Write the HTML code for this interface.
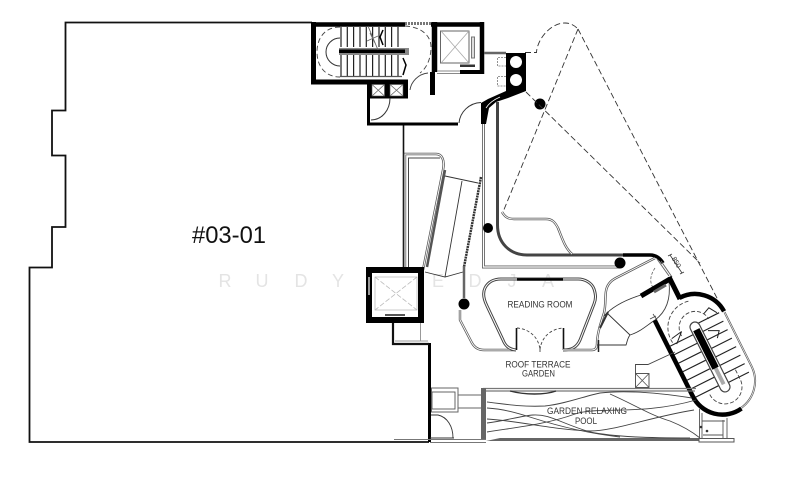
<!DOCTYPE html>
<html><head><meta charset="utf-8"><style>
html,body{margin:0;padding:0;background:#fff;width:800px;height:478px;overflow:hidden}
svg{display:block;filter:blur(.3px)}
text{font-family:"Liberation Sans",sans-serif}
</style></head><body>
<svg width="800" height="478" viewBox="0 0 800 478" xmlns="http://www.w3.org/2000/svg" fill="none" stroke-linejoin="miter">
<!-- watermark -->
<g font-size="18" fill="#e4e4e4" text-anchor="middle">
<text x="225" y="287">R</text><text x="262" y="287">U</text><text x="301" y="287">D</text><text x="338" y="287">Y</text>
<text x="403" y="287">T</text><text x="438" y="287">E</text><text x="475" y="287">D</text><text x="512" y="287">J</text><text x="548" y="287">A</text>
</g>
<!-- outer unit -->
<path d="M312 22.5H65.5V110.5H52V155.5H65.5V227H52V267.5H29.5V442H429" stroke="#111" stroke-width="1.8"/>
<path d="M429.500 343V442" stroke="#000" stroke-width="3"/>
<path d="M393 323V344H429" stroke="#111" stroke-width="2.200"/>
<path d="M395 341H428M420.500 323V341" stroke="#999" stroke-width="1"/>
<path d="M403.500 125V268" stroke="#111" stroke-width="1.600"/>

<!-- upper stair core -->
<g stroke="#000">
<path d="M313.500 22V84M311 82H408" stroke-width="5"/>
<path d="M311 24.500H405M431 24.500H484" stroke-width="4.500"/>
<path d="M434.500 22V72" stroke-width="5.500"/>
<path d="M482 22V74" stroke-width="4.500"/>
<path d="M460 72H484" stroke-width="4"/>
<path d="M432.500 72V95" stroke-width="5"/>
</g>
<path d="M405 23.500H431" stroke="#777" stroke-width="3" stroke-dasharray="2 1"/>
<path d="M437 71H460M437 73.500H460" stroke="#888"/>
<g stroke="#222" stroke-width="1.200">
<path d="M341 27V47M347.300 27V47M353.600 27V47M360 27V47M366.300 27V47M372.600 27V47M379 27V47M385.300 27V47M391.600 27V47M398 27V47"/>
<path d="M341 55V76M347.300 55V76M353.600 55V76M360 55V76M366.300 55V76M372.600 55V76M379 55V76M385.300 55V76M391.600 55V76M398 55V76"/>
<path d="M340 76.500H402" stroke="#555"/>
</g>
<rect x="339" y="48" width="70" height="7" fill="#888"/>
<rect x="339" y="49.500" width="66" height="3.500" fill="#000"/>
<path d="M340 38A14 14 0 0 0 340 66" stroke="#333" stroke-width="1"/>
<path d="M340 27C325 27 317 38 317 52S325 77 340 77M405 26C422 27 431 36 431 47S427 68 420 73" stroke="#444" stroke-width=".9" stroke-dasharray="5 3"/>
<path d="M368 26L378 50M367 41L378 36M370 33L375 43" stroke="#666" stroke-width=".9"/>
<path d="M383 30L380 37L383 45M403 58L406 65L403 75" stroke="#000" stroke-width="1.500"/>
<!-- lift 1 -->
<rect x="440.500" y="31" width="28.500" height="32" stroke="#666" stroke-width="1"/>
<path d="M441 31L469 63M469 31L441 63" stroke="#aaa" stroke-width=".8"/>
<rect x="471.500" y="37" width="3" height="21" stroke="#777" stroke-width="1" fill="#ddd"/>
<rect x="460" y="64.500" width="15" height="2.500" fill="#333"/>
<!-- shafts -->
<rect x="367" y="83" width="41" height="15.500" fill="#000"/>
<rect x="372" y="84.500" width="12.500" height="11.500" fill="#fff" stroke="#555" stroke-width=".6"/>
<rect x="390" y="84.500" width="13" height="11.500" fill="#fff" stroke="#555" stroke-width=".6"/>
<path d="M372 84.500L384.500 96M384.500 84.500L372 96M390 84.500L403 96M403 84.500L390 96" stroke="#666" stroke-width=".8"/>
<path d="M368.500 98V125M367 124H458" stroke="#000" stroke-width="3"/>
<path d="M371 120C382 120 390 110 390 98" stroke="#333" stroke-width="1"/>
<path d="M410 90C411 82 418 74 428 73" stroke="#444" stroke-width=".9"/>
<path d="M459 123C460 112 469 103 481 102.500" stroke="#333" stroke-width="1"/>

<!-- sanitary block -->
<path d="M484 53H506" stroke="#666" stroke-width="2.500"/>
<path d="M506 53H526V91L508 98L496 102L489 108L486 124L481 124V103L488 99L506 91Z" fill="#000"/>
<path d="M486 108C489 103 493 100 500 97" stroke="#fff" stroke-width=".8"/>
<circle cx="516" cy="62" r="6" fill="#fff"/><circle cx="516" cy="80" r="6" fill="#fff"/>
<path d="M506 57.500H497.500V66H506M506 76.500H497.500V86H506" stroke="#777" stroke-width=".8" stroke-dasharray="2 1"/>
<circle cx="540" cy="104" r="5.500" fill="#000"/>
<!-- dashed overhead -->
<g stroke="#333" stroke-width=".9" stroke-dasharray="6 3">
<path d="M578 29L503 212"/><path d="M578 29L718 300"/><path d="M526 92L700 263"/>
<path d="M525 52.500H536.500C537 40 550 23 565 23C571 23 575 26 578 29"/>
</g>

<!-- double rails -->
<path d="M483.500 124V267H620" stroke="#666" stroke-width="3"/>
<path d="M483.500 124V267H620" stroke="#fff" stroke-width="1.200"/>
<path d="M497.500 102V225C497.500 243 510 255 527 255H625" stroke="#444" stroke-width="3"/>
<path d="M623 255H650C656 255 660 258 663 263" stroke="#000" stroke-width="3.600"/>
<circle cx="620" cy="263" r="5.500" fill="#000"/>
<circle cx="488" cy="228" r="5" fill="#000"/>
<path d="M502 212C505 217 508 219 514 219H546C552 219 555 222 558 228C562 238 565 248 572 254" stroke="#555" stroke-width="2.400"/>
<path d="M502 212C505 217 508 219 514 219H546C552 219 555 222 558 228C562 238 565 248 572 254" stroke="#fff" stroke-width=".9"/>

<!-- ramp -->
<path d="M423 270L443 170C445 160 442 154 436 154H405V268" stroke="#555" stroke-width="2.400"/>
<path d="M423 270L443 170C445 160 442 154 436 154H405V268" stroke="#fff" stroke-width=".9"/>
<path d="M408.500 268V158H440" stroke="#444" stroke-width="1"/>
<path d="M445 170L427 267" stroke="#555" stroke-width="2.500"/>
<path d="M481 177L464 267" stroke="#333" stroke-width="2.500" stroke-dasharray="2 .7"/>
<path d="M445 176L478 183M462 181L445 277M425 272L445 277L463 272" stroke="#333" stroke-width=".9"/>
<path d="M464 266L464 298" stroke="#666" stroke-width="2.500"/>
<!-- lift 2 -->
<rect x="369" y="270" width="52" height="50" fill="#fff" stroke="#000" stroke-width="6"/>
<path d="M375 277H417V310H375Z" stroke="#bbb" stroke-width=".8"/>
<path d="M375 277L417 310M417 277L375 310" stroke="#bbb" stroke-width=".8" stroke-dasharray="5 2"/>
<path d="M385 315H405" stroke="#555" stroke-width="2"/>
<path d="M369 277V295" stroke="#999" stroke-width="2"/>
<!-- left wing -->
<circle cx="464" cy="304" r="5.500" fill="#000"/>
<path d="M460 310V320L472 343Q476 350 484 350H516" stroke="#555" stroke-width="2.400"/>
<path d="M460 310V320L472 343Q476 350 484 350H516" stroke="#fff" stroke-width=".9"/>
<!-- reading room -->
<path d="M516 350C508 349 505 345 503 340L487 306C483 298 483 292 485 288C488 282 494 279 501 279H578C585 279 592 283 594 289C596 295 596 299 594 304L580 340C577 347 572 350 563 350" stroke="#444" stroke-width="3"/>
<path d="M516 350C508 349 505 345 503 340L487 306C483 298 483 292 485 288C488 282 494 279 501 279H578C585 279 592 283 594 289C596 295 596 299 594 304L580 340C577 347 572 350 563 350" stroke="#fff" stroke-width="1"/>
<path d="M517 279.500H563" stroke="#000" stroke-width="2.500"/>
<path d="M516.500 350V328M563.500 350V328" stroke="#111" stroke-width="1.600"/>
<path d="M517 328C530 329 539 338 540 350C541 338 550 329 563 328" stroke="#444" stroke-width=".9" stroke-dasharray="3 2"/>
<path d="M540 346V352" stroke="#555"/>
<!-- right curve rails -->
<path d="M563 350H592Q597 350 597 344C597 335 600 325 604 313C606 305 605 296 606 291C607 285 610 281 616 278L655 258" stroke="#555" stroke-width="2.400"/>
<path d="M563 350H592Q597 350 597 344C597 335 600 325 604 313C606 305 605 296 606 291C607 285 610 281 616 278L655 258" stroke="#fff" stroke-width=".9"/>
<path d="M598.500 340V352" stroke="#222" stroke-width="1.500"/>
<path d="M600 328L608 312" stroke="#333" stroke-width="2"/>
<path d="M604 316C612 307 625 300 641 295M607 313L630 335M630 335C627 339 627 343 626 345H597M630 335C640 332 646 326 655 320" stroke="#333" stroke-width=".9"/>
<path d="M655 320C666 312 671 300 669 282" stroke="#444" stroke-width=".9"/>
<path d="M655 268C649 277 650 284 654 289" stroke="#666" stroke-width=".8" stroke-dasharray="3 1.500"/>
<path d="M641 296L670 279" stroke="#000" stroke-width="5"/>
<path d="M654 292L666 285" stroke="#666" stroke-width="3"/>
<path d="M661 261L672 277M657 259L669 276" stroke="#666" stroke-width="1"/>
<path d="M670 255L682 273M668 256L672 254M680 274L684 272" stroke="#333" stroke-width=".8"/>
<text x="677" y="265" font-size="7" fill="#333" text-anchor="middle" transform="rotate(60 677 262)">850</text>
<path d="M669 277L680 299" stroke="#000" stroke-width="5"/>

<!-- stair 2 (local coordinates along axis) -->
<g transform="translate(695 327) rotate(-26.6)">
<path d="M33 0V61A33 33 0 0 1 5 93" stroke="#555" stroke-width="2"/>
<path d="M33 0V61A33 33 0 0 1 5 93" stroke="#fff" stroke-width=".7"/>
<path d="M-33 -24V61A33 33 0 0 0 5 93.700" stroke="#000" stroke-width="4.500"/>
<path d="M-1 -33A33 33 0 0 1 33 -1" stroke="#000" stroke-width="4.500"/>
<g stroke="#222" stroke-width="1.150">
<path d="M-31 6H-3M-31 15.500H-3M-31 25H-3M-31 34.500H-3M-31 44H-3M-31 53.500H-3M-31 63H-3"/>
<path d="M3 -2H28M3 7.500H28M3 17H28M3 26.500H28M3 36H28M3 45.500H28M3 55H28M3 64.500H28"/>
</g>
<path d="M-16 2A16 16 0 0 1 16 -1M-27 4A27 27 0 0 1 6 -26" stroke="#444" stroke-width=".9" stroke-dasharray="4 2"/>
<path d="M-17 67A17 17 0 0 0 17 67V56" stroke="#444" stroke-width=".9" stroke-dasharray="4 2"/>
<rect x="-5" y="-5" width="10" height="77" rx="5" fill="#fff" stroke="#444" stroke-width="1.200"/>
<rect x="-2" y="46" width="4" height="18" fill="#aaa"/>
<rect x="-3.500" y="3" width="7" height="43" fill="#000"/>
<path d="M-14 -2L-24 7M-14 -2L-26 0M14 -8L21 -11L26 -3M10 9L20 14L15 20" stroke="#222" stroke-width="1"/>
</g>
<path d="M650 319L656 316M653 314L657 320" stroke="#444" stroke-width=".8"/>

<!-- pool -->
<path d="M483 388.500H696M486 391H695" stroke="#777" stroke-width="1.300"/>
<rect x="481" y="388" width="5" height="52" fill="#666"/>
<path d="M486 441L500 438H699V441Z" fill="#666"/>
<g stroke="#444" stroke-width=".9">
<path d="M510 391C525 395 545 395 556 391" stroke="#333" stroke-width="1.400"/>
<path d="M487 402C510 405 525 407 545 406C565 404 585 396 600 393C625 390 660 393 692 398"/>
<path d="M487 408C505 409 520 414 533 418C555 425 585 433 620 437"/>
<path d="M487 423C505 421 520 416 533 415C550 414 560 423 590 432C615 437 650 438 690 438"/>
<path d="M487 419C520 421 555 430 590 431C615 431 650 417 694 410"/>
<path d="M610 394C635 405 650 415 670 421C680 425 690 430 700 438"/>
<path d="M487 432C510 428 545 425 575 414C600 406 640 416 696 400"/>
</g>
<!-- bottom left details -->
<rect x="431.500" y="388" width="26.500" height="24" stroke="#666" stroke-width="1"/>
<rect x="432" y="392" width="23" height="17" stroke="#555" stroke-width=".9"/>
<path d="M458 395H481M458 408H481" stroke="#666" stroke-width="1"/>
<path d="M431 415H438C447 417 453 426 453 438M430 438H454" stroke="#333" stroke-width=".9"/>
<path d="M394 439.500H486M430 442.500H486" stroke="#777" stroke-width="1"/>
<!-- box -->
<rect x="635.500" y="373.500" width="13.500" height="14" stroke="#444" stroke-width=".9"/>
<path d="M635.500 373.500L649 387.500M649 373.500L635.500 387.500" stroke="#555" stroke-width=".8"/>
<path d="M635.500 373.500V364.500H648L675 352" stroke="#444" stroke-width=".9"/>
<!-- bottom right details -->
<rect x="699" y="438.500" width="35" height="3.500" stroke="#555" stroke-width="1"/>
<path d="M699.500 409V438M702 413V438M723 420V438M727 418V438M702 421H725M708 421H715M703 435H723" stroke="#555" stroke-width=".9"/>
<circle cx="701" cy="427" r="1.300" fill="#333"/><circle cx="707" cy="431" r="1.300" fill="#333"/>

<!-- labels -->
<text x="192" y="243" font-size="24" fill="#111" textLength="74" lengthAdjust="spacingAndGlyphs">#03-01</text>
<g font-size="8.800" fill="#333" text-anchor="middle">
<text x="540" y="307.500" textLength="65" lengthAdjust="spacingAndGlyphs">READING ROOM</text>
<text x="538" y="367.500" textLength="65" lengthAdjust="spacingAndGlyphs">ROOF TERRACE</text>
<text x="538.500" y="376.500" textLength="33" lengthAdjust="spacingAndGlyphs">GARDEN</text>
<text x="587" y="414" textLength="80" lengthAdjust="spacingAndGlyphs">GARDEN RELAXING</text>
<text x="586" y="424" textLength="22" lengthAdjust="spacingAndGlyphs">POOL</text>
</g>
</svg>
</body></html>
